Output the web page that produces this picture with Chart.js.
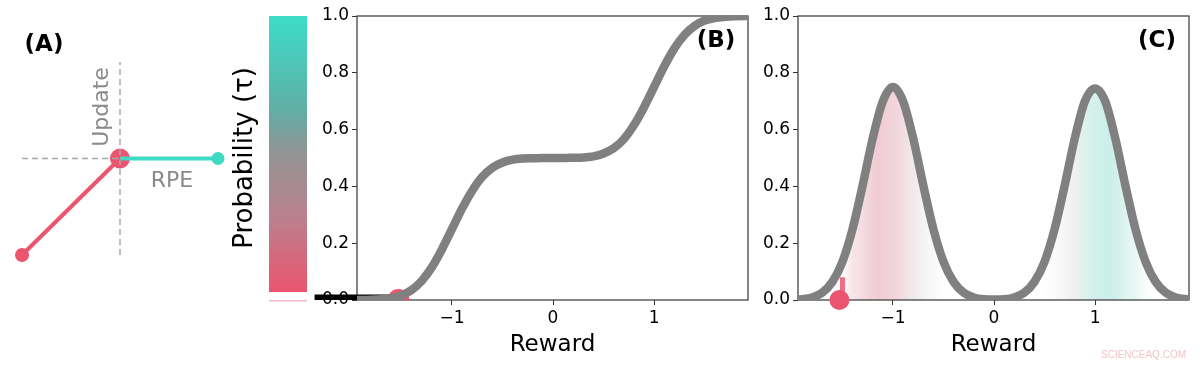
<!DOCTYPE html>
<html>
<head>
<meta charset="utf-8">
<script src="https://cdn.jsdelivr.net/npm/chart.js@4.4.0/dist/chart.umd.min.js"></script>
<style>
body { margin:0; background:#fff; width:1200px; height:365px; position:relative; overflow:hidden; }
canvas { position:absolute; top:0; }
#wm { position:absolute; left:1101px; top:349px; font:10px "Liberation Sans"; color:#f2c4ca; }
</style>
</head>
<body>
<canvas id="panelA" width="240" height="300" style="left:0px"></canvas>
<canvas id="panelB" width="530" height="365" style="left:230px"></canvas>
<canvas id="panelC" width="460" height="365" style="left:740px"></canvas>
<div id="wm">SCIENCEAQ.COM</div>
<script>
// reward grid shared by (B) and (C)
var rewardGrid = [-2.0,-1.9,-1.8,-1.7,-1.6,-1.5,-1.4,-1.3,-1.2,-1.1,-1.0,-0.9,-0.8,-0.7,-0.6,-0.5,-0.4,-0.3,-0.2,-0.1,
                  0.0,0.1,0.2,0.3,0.4,0.5,0.6,0.7,0.8,0.9,1.0,1.1,1.2,1.3,1.4,1.5,1.6,1.7,1.8,1.9,2.0];
// (B) cumulative probability
var cdfValues = [0.000,0.000,0.001,0.003,0.007,0.016,0.035,0.067,0.115,0.178,0.250,0.322,0.385,0.434,0.466,0.484,0.494,0.498,0.499,0.500,
                 0.500,0.500,0.501,0.502,0.506,0.516,0.534,0.566,0.615,0.678,0.750,0.822,0.885,0.933,0.965,0.984,0.993,0.997,0.999,1.000,1.000];
// (C) density
var densityValues = [0.001,0.003,0.009,0.026,0.064,0.135,0.250,0.404,0.570,0.700,0.750,0.700,0.570,0.404,0.250,0.135,0.064,0.026,0.009,0.003,
                     0.002,0.003,0.009,0.026,0.064,0.135,0.250,0.404,0.570,0.700,0.745,0.700,0.570,0.404,0.250,0.135,0.064,0.026,0.009,0.003,0.001];
var xTicks = [-1, 0, 1];
var yTicks = [0, 0.2, 0.4, 0.6, 0.8, 1.0];
var sampleReward = -1.53;
var pastRewards = [-2.36, -1.6];
var stemHeight = 0.08;

// (A) diagram
var estimateLine = [[-1, -1], [0, 0]];
var rpeLine = [[0, 0], [1, 0]];
var guideV = [[0, -1], [0, 1]];
var guideH = [[-1, 0], [0, 0]];

var PINK = '#eb5570';
var TEAL = '#40d9c4';
var GRAY = '#808080';
var FONT = '"DejaVu Sans"';

function pts(arr) { return arr.map(function(p){ return {x:p[0], y:p[1]}; }); }
function curve(ys) { return rewardGrid.map(function(x,i){ return {x:x, y:ys[i]}; }); }

new Chart(document.getElementById('panelA'), {
	type: 'scatter',
	data: {
		datasets: [
			{data: pts(guideV), showLine:true, borderColor:'#a8a8a8', borderWidth:1.5, borderDash:[6,4], pointRadius:0, clip:false},
			{data: pts(guideH), showLine:true, borderColor:'#a8a8a8', borderWidth:1.5, borderDash:[6,4], pointRadius:0, clip:false},
			{data: pts(estimateLine), showLine:true, borderColor:PINK, borderWidth:4, pointRadius:[7,0], pointBackgroundColor:PINK, pointBorderWidth:0, clip:false},
			{data: pts(rpeLine), showLine:true, borderColor:TEAL, borderWidth:4, pointRadius:[0,6.5], pointBackgroundColor:TEAL, pointBorderWidth:0, clip:false},
			{data: pts([estimateLine[1]]), pointRadius:10, pointBackgroundColor:PINK, pointBorderWidth:0, clip:false}
		]
	},
	options: {
		responsive:false, animation:false, events:[],
		layout: {padding: {left:22, right:22, top:62, bottom:45}},
		plugins: {legend:{display:false}, tooltip:{enabled:false}},
		scales: {
			x: {type:'linear', min:-1, max:1, display:false},
			y: {type:'linear', min:-1, max:1, display:false}
		}
	},
	plugins: [{
		id:'labelsA',
		afterDraw: function(chart){
			var c = chart.ctx;
			c.save();
			c.textAlign='center'; c.textBaseline='middle';
			c.fillStyle='#000'; c.font='bold 23px '+FONT;
			c.fillText('(A)', 44, 45);
			c.fillStyle='#8a8a8a'; c.font='22px '+FONT;
			c.fillText('RPE', 172, 181);
			c.translate(102, 107); c.rotate(-Math.PI/2);
			c.fillText('Update', 0, 0);
			c.restore();
		}
	}]
});

function frame(label) {
	return {
		id:'frame'+label,
		beforeDatasetsDraw: function(chart){
			var a = chart.chartArea, c = chart.ctx;
			c.save(); c.strokeStyle='#444'; c.lineWidth=1.3;
			c.strokeRect(a.left, a.top, a.right-a.left, a.bottom-a.top);
			c.restore();
		},
		afterDraw: function(chart){
			var a = chart.chartArea, c = chart.ctx;
			c.save(); c.fillStyle='#000'; c.font='bold 23px '+FONT;
			c.textAlign='center'; c.textBaseline='middle';
			c.fillText(label, a.right-32, a.top+25);
			c.restore();
		}
	};
}

function axes(yWidth, yTitle) {
	return {
		x: {
			type:'linear', min:-1.94, max:1.93,
			afterBuildTicks: function(s){ s.ticks = xTicks.map(function(v){ return {value:v}; }); },
			afterFit: function(s){ s.height = 65; },
			border:{display:false},
			grid:{drawOnChartArea:false, drawTicks:true, tickLength:5, color:'#333'},
			ticks:{color:'#000', font:{family:'DejaVu Sans', size:17}, padding:3, maxRotation:0,
				callback:function(v){ return v < 0 ? '\u2212' + Math.abs(v) : String(v); }},
			title:{display:true, text:'Reward', color:'#000', font:{family:'DejaVu Sans', size:23}, padding:{top:0, bottom:6}}
		},
		y: {
			type:'linear', min:0, max:1,
			afterBuildTicks: function(s){ s.ticks = yTicks.map(function(v){ return {value:v}; }); },
			afterFit: function(s){ s.width = yWidth; },
			border:{display:false},
			grid:{drawOnChartArea:false, drawTicks:true, tickLength:5, color:'#333'},
			ticks:{color:'#000', font:{family:'DejaVu Sans', size:17}, padding:3,
				callback:function(v){ return v.toFixed(1); }},
			title: yTitle ? {display:true, text:yTitle, color:'#000', font:{family:'DejaVu Sans', size:26}, padding:{top:0, bottom:0}} : {display:false}
		}
	};
}

new Chart(document.getElementById('panelB'), {
	type: 'line',
	data: {
		datasets: [
			{data: curve(cdfValues), borderColor:GRAY, borderWidth:8.5, pointRadius:0, cubicInterpolationMode:'monotone', clip:0},
			{data: pastRewards.map(function(x){ return {x:x, y:0}; }), borderColor:'#000', borderWidth:11, borderCapStyle:'butt', pointRadius:0, clip:{left:60, top:0, right:0, bottom:0}},
			{data: [{x:sampleReward, y:0}], showLine:false, pointRadius:11, pointBackgroundColor:PINK, pointBorderWidth:0, clip:{left:60, top:0, right:0, bottom:0}}
		]
	},
	options: {
		responsive:false, animation:false, events:[],
		layout: {padding: {left:0, right:12, top:16, bottom:0}},
		plugins: {legend:{display:false}, tooltip:{enabled:false}},
		scales: axes(127, 'Probability (\u03C4)')
	},
	plugins: [frame('(B)'), {
		id:'colorbar',
		beforeDraw: function(chart){
			var c = chart.ctx, top = chart.chartArea.top;
			var g = c.createLinearGradient(0, top, 0, 292);
			g.addColorStop(0, '#3ddcc9');
			g.addColorStop(0.33, '#5fb0a7');
			g.addColorStop(0.5, '#939393');
			g.addColorStop(0.72, '#b9828e');
			g.addColorStop(1, '#eb5570');
			c.save();
			c.fillStyle = g; c.fillRect(39, top, 38, 292-top);
			c.fillStyle = '#f5b8c4'; c.fillRect(39, 300, 38, 1.5);
			c.restore();
		}
	}]
});

new Chart(document.getElementById('panelC'), {
	type: 'line',
	data: {
		datasets: [
			{data: [{x:sampleReward, y:0}], pointRadius:10, showLine:false, pointBackgroundColor:PINK, pointBorderWidth:0, clip:false},
			{data: [{x:sampleReward+0.03, y:0}, {x:sampleReward+0.03, y:stemHeight}], borderColor:'rgba(235,85,112,0.85)', borderWidth:5, borderCapStyle:'butt', pointRadius:0, clip:false},
			{data: curve(densityValues), borderColor:GRAY, borderWidth:8.5, pointRadius:0, cubicInterpolationMode:'monotone', clip:0,
				fill:'origin',
				backgroundColor: function(ctx){
					var chart = ctx.chart, a = chart.chartArea;
					if (!a) return 'transparent';
					var xs = chart.scales.x;
					var x0 = xs.getPixelForValue(-2), x1 = xs.getPixelForValue(2);
					var g = chart.ctx.createLinearGradient(x0, 0, x1, 0);
					function at(v){ return (v + 2) / 4; }
					g.addColorStop(at(-1.6), 'rgba(255,255,255,0)');
					g.addColorStop(at(-1.4), 'rgba(240,208,214,0.55)');
					g.addColorStop(at(-1.15), 'rgba(238,194,204,0.85)');
					g.addColorStop(at(-0.95), 'rgba(238,202,210,0.75)');
					g.addColorStop(at(-0.75), 'rgba(228,222,224,0.5)');
					g.addColorStop(at(-0.45), 'rgba(240,240,240,0)');
					g.addColorStop(at(0.45), 'rgba(240,240,240,0)');
					g.addColorStop(at(0.75), 'rgba(225,228,227,0.45)');
					g.addColorStop(at(0.95), 'rgba(202,236,230,0.75)');
					g.addColorStop(at(1.15), 'rgba(192,236,228,0.85)');
					g.addColorStop(at(1.4), 'rgba(214,240,235,0.55)');
					g.addColorStop(at(1.6), 'rgba(255,255,255,0)');
					return g;
				}}
		]
	},
	options: {
		responsive:false, animation:false, events:[],
		layout: {padding: {left:0, right:11, top:16, bottom:0}},
		plugins: {legend:{display:false}, tooltip:{enabled:false}, filler:{drawTime:'beforeDatasetsDraw'}},
		scales: axes(58, null)
	},
	plugins: [frame('(C)')]
});
</script>
</body>
</html>
